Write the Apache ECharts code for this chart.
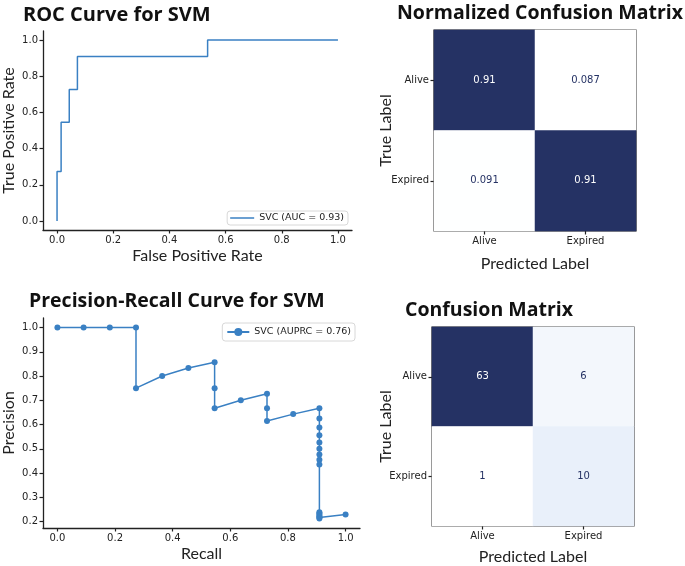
<!DOCTYPE html>
<html>
<head>
<meta charset="utf-8">
<script src="https://cdn.jsdelivr.net/npm/echarts@6/dist/echarts.min.js"></script>
<style>
html,body{margin:0;padding:0;background:#fff;}
#c{width:685px;height:566px;}
</style>
</head>
<body>
<div id="c"></div>
<script>
// ---- data ----
const rocFpr = [0, 0, 0.0145, 0.0145, 0.0435, 0.0435, 0.0725, 0.0725, 0.536, 0.536, 1.0];
const rocTpr = [0, 0.273, 0.273, 0.545, 0.545, 0.727, 0.727, 0.909, 0.909, 1.0, 1.0];
const rocTicks = [0, 0.2, 0.4, 0.6, 0.8, 1.0];

const prRecall = [0, 0.0909, 0.1818, 0.2727, 0.2727, 0.3636, 0.4545, 0.5455, 0.5455, 0.5455,
  0.6364, 0.7273, 0.7273, 0.7273, 0.8182,
  0.9091, 0.9091, 0.9091, 0.9091, 0.9091, 0.9091, 0.9091, 0.9091, 0.9091,
  0.9091, 0.9091, 0.9091, 0.9091, 0.9091, 0.9091, 1.0];
const prPrecision = [1, 1, 1, 1, 0.75, 0.8, 0.833, 0.857, 0.75, 0.667,
  0.7, 0.727, 0.667, 0.615, 0.643,
  0.667, 0.625, 0.588, 0.556, 0.526, 0.5, 0.476, 0.455, 0.435,
  0.238, 0.233, 0.227, 0.222, 0.217, 0.213, 0.229];
const prXTicks = [0, 0.2, 0.4, 0.6, 0.8, 1.0];
const prYTicks = [0.2, 0.3, 0.4, 0.5, 0.6, 0.7, 0.8, 0.9, 1.0];

const classes = ['Alive', 'Expired'];
const cmNormalized = [[0.91, 0.087], [0.091, 0.91]];
const cmCounts = [[63, 6], [1, 10]];

const rocName = 'SVC (AUC = 0.93)';
const prName = 'SVC (AUPRC = 0.76)';

// ---- styles ----
const BLUE = '#3a80c3';
const NAVY = '#253264';
const AX = '#222';
const tickFont = {fontFamily: 'DejaVu Sans', fontSize: 10, color: AX};
const nameFont = {fontFamily: 'Lato', fontSize: 16, color: '#222'};
const titleFont = {fontFamily: 'Open Sans', fontWeight: 'bold', fontSize: 20, color: '#111'};
const titleFontS = {...titleFont, fontSize: 19.5};
const cmap = ['#ffffff', '#e6eef9', '#c3d3ec', '#90a6d1', '#5c73ab', '#374a86', NAVY];

function zip(a, b) { return a.map((v, i) => [v, b[i]]); }
function cmData(m) {
  const flat = m.flat();
  const mn = Math.min(...flat), mx = Math.max(...flat), thr = (mn + mx) / 2;
  const out = [];
  m.forEach((row, r) => row.forEach((v, c) => {
    out.push({value: [c, r, v], label: {color: v > thr ? '#ffffff' : NAVY}});
  }));
  return {data: out, min: mn, max: mx};
}
const cm1 = cmData(cmNormalized);
const cm2 = cmData(cmCounts);

function valueAxis(gridIndex, min, max, ticks, name, gap, dec) {
  return {
    type: 'value', gridIndex, min, max, name, nameLocation: 'middle', nameGap: gap,
    nameTextStyle: nameFont, nameMoveOverlap: false,
    axisLine: {show: true, onZero: false, lineStyle: {color: AX, width: 1.3}},
    axisTick: {show: true, length: 3.5, lineStyle: {color: AX, width: 1.2}, customValues: ticks},
    axisLabel: {show: true, ...tickFont, margin: 5, customValues: ticks, formatter: v => v.toFixed(dec)},
    splitLine: {show: false}
  };
}
function catAxis(gridIndex, isY, name, gap) {
  return {
    type: 'category', gridIndex, data: classes, inverse: isY,
    name, nameLocation: 'middle', nameGap: gap, nameTextStyle: nameFont, nameMoveOverlap: false,
    axisLine: {show: false},
    axisTick: {show: true, alignWithLabel: true, length: 3.5, lineStyle: {color: AX, width: 1.2}},
    axisLabel: {...tickFont, margin: 5},
    splitLine: {show: false}, splitArea: {show: false}
  };
}

const chart = echarts.init(document.getElementById('c'), null, {renderer: 'canvas'});
chart.setOption({
  animation: false,
  backgroundColor: '#fff',
  title: [
    {text: 'ROC Curve for SVM', left: 18, top: 0, textStyle: titleFont},
    {text: 'Precision-Recall Curve for SVM', left: 24, top: 286, textStyle: titleFontS},
    {text: 'Normalized Confusion Matrix', left: 392, top: -2, textStyle: titleFontS},
    {text: 'Confusion Matrix', left: 400, top: 295, textStyle: titleFontS}
  ],
  grid: [
    {left: 38, top: 31, width: 314, height: 199},
    {left: 38, top: 318, width: 322, height: 210},
    {left: 434, top: 30, width: 202, height: 201, show: true, borderColor: AX, borderWidth: 1.2, backgroundColor: 'transparent'},
    {left: 432, top: 327, width: 202, height: 202, show: true, borderColor: AX, borderWidth: 1.2, backgroundColor: 'transparent'}
  ],
  xAxis: [
    valueAxis(0, -0.05, 1.05, rocTicks, 'False Positive Rate', 18, 1),
    valueAxis(1, -0.05, 1.05, prXTicks, 'Recall', 18, 1),
    catAxis(2, false, 'Predicted Label', 25),
    catAxis(3, false, 'Predicted Label', 23)
  ],
  yAxis: [
    valueAxis(0, -0.05, 1.05, rocTicks, 'True Positive Rate', 26, 1),
    valueAxis(1, 0.1734, 1.0394, prYTicks, 'Precision', 26, 1),
    catAxis(2, true, 'True Label', 40),
    catAxis(3, true, 'True Label', 38)
  ],
  legend: [
    {data: [{name: rocName, icon: 'rect'}], right: 685 - 348, top: 211, orient: 'vertical', itemWidth: 24, itemHeight: 1.5,
     textStyle: {fontFamily: 'DejaVu Sans', fontSize: 9.5, color: AX},
     borderColor: '#d8d8d8', borderWidth: 1, borderRadius: 3, padding: [2, 4, 2, 3], itemGap: 4},
    {data: [prName], right: 685 - 355, top: 323, orient: 'vertical', itemWidth: 22, itemHeight: 10,
     textStyle: {fontFamily: 'DejaVu Sans', fontSize: 9.5, color: AX},
     borderColor: '#d8d8d8', borderWidth: 1, borderRadius: 3, padding: [4, 4, 4, 4], itemGap: 4}
  ],
  visualMap: [
    {show: false, seriesIndex: 2, min: cm1.min, max: cm1.max, inRange: {color: cmap}},
    {show: false, seriesIndex: 3, min: cm2.min, max: cm2.max, inRange: {color: cmap}}
  ],
  series: [
    {name: rocName, type: 'line', xAxisIndex: 0, yAxisIndex: 0, data: zip(rocFpr, rocTpr),
     symbol: 'none', lineStyle: {color: BLUE, width: 1.5}, itemStyle: {color: BLUE}},
    {name: prName, type: 'line', xAxisIndex: 1, yAxisIndex: 1, data: zip(prRecall, prPrecision),
     symbol: 'circle', symbolSize: 6, showAllSymbol: true,
     lineStyle: {color: BLUE, width: 1.5}, itemStyle: {color: BLUE}},
    {type: 'heatmap', xAxisIndex: 2, yAxisIndex: 2, data: cm1.data,
     label: {show: true, fontFamily: 'DejaVu Sans', fontSize: 10, formatter: p => String(p.value[2])}},
    {type: 'heatmap', xAxisIndex: 3, yAxisIndex: 3, data: cm2.data,
     label: {show: true, fontFamily: 'DejaVu Sans', fontSize: 10, formatter: p => String(p.value[2])}}
  ]
});
</script>
</body>
</html>
